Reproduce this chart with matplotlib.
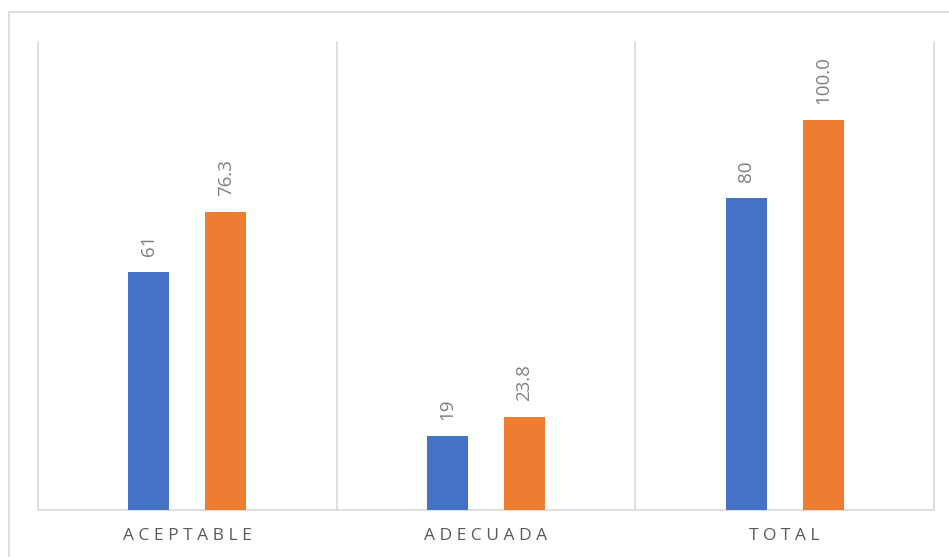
import matplotlib
matplotlib.use('Agg')
import matplotlib.pyplot as plt
from matplotlib.patches import Rectangle
import numpy as np

categories = ['ACEPTABLE', 'ADECUADA', 'TOTAL']
counts = [61, 19, 80]
percents = [76.3, 23.8, 100.0]

blue = '#4472C4'
orange = '#ED7D31'
grid = '#D9D9D9'

plt.rcParams['font.family'] = ['Open Sans', 'DejaVu Sans']

fig = plt.figure(figsize=(9.49, 5.57), dpi=100)
ax = fig.add_axes([38 / 949, 47 / 557, (934 - 38) / 949, (510 - 42) / 557])

# chart border (only top and left visible in the crop)
fig.patches.append(Rectangle((9 / 949, -0.2), 1.2, 1.2 - 12 / 557, transform=fig.transFigure,
                             fill=False, edgecolor=grid, linewidth=1.2))

x = np.arange(len(categories)) + 0.5
w = 0.137
off = 0.129
b1 = ax.bar(x - off, counts, w, color=blue, zorder=3)
b2 = ax.bar(x + off, percents, w, color=orange, zorder=3)

for bars, vals, fmt in [(b1, counts, '{:d}'), (b2, percents, '{:.1f}')]:
    for rect, v in zip(bars, vals):
        ax.annotate(fmt.format(v), (rect.get_x() + rect.get_width() / 2, rect.get_height()),
                    xytext=(0, 11.5), textcoords='offset points', rotation=90,
                    ha='center', va='bottom', fontsize=13.5, color='#7F7F7F')

ax.set_xlim(0, 3)
ax.set_ylim(0, 120)
ax.set_yticks([])
ax.set_xticks(x)
ax.set_xticklabels([' '.join(c) for c in categories], fontsize=12.5, color='#595959')
ax.tick_params(axis='x', length=0, pad=13)

# category separators
for b in range(len(categories) + 1):
    ax.axvline(b, color=grid, linewidth=1.2, clip_on=False, zorder=1)

for s in ['top', 'left', 'right']:
    ax.spines[s].set_visible(False)
ax.spines['bottom'].set_color(grid)
ax.spines['bottom'].set_linewidth(1.2)

fig.savefig('out.png', dpi=100)
